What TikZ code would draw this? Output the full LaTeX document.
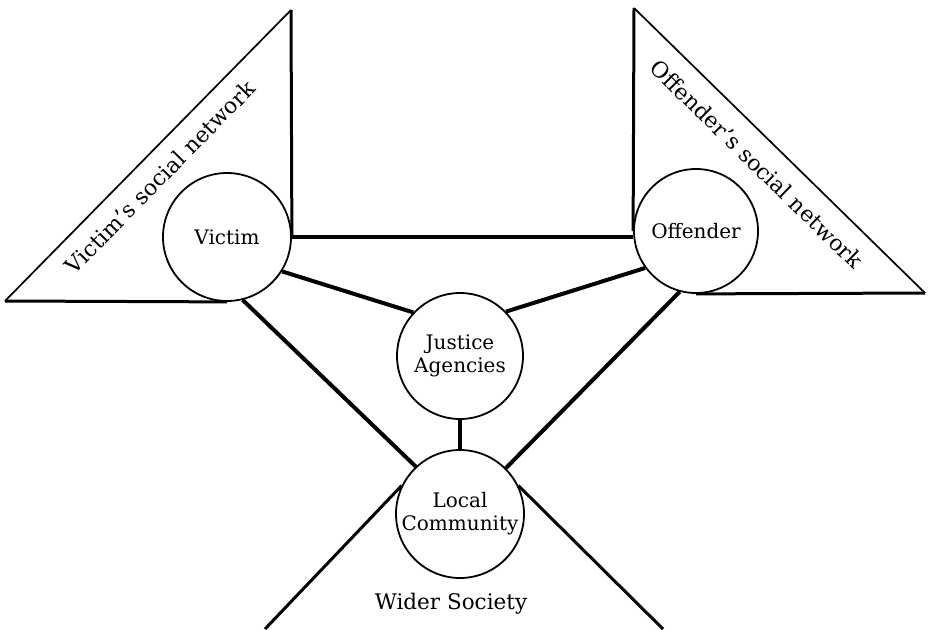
\documentclass[tikz,border=0pt]{standalone}
\usepackage{fontspec}
\setmainfont{DejaVu Serif}
\begin{document}
\begin{tikzpicture}[x=1pt,y=-1pt,
  party/.style={circle,draw,line width=1.8pt,fill=white,inner sep=0pt,align=center,
    font=\fontsize{20}{23}\selectfont},
  link/.style={line width=4pt},
  leg/.style={line width=3pt},
  hyp/.style={line width=1.7pt,line join=miter},
  tlabel/.style={font=\fontsize{22}{24}\selectfont}]
\useasboundingbox (0,0) rectangle (928,629);
% nodes
\node[party,minimum size=128pt] (victim) at (227,237) {Victim};
\node[party,minimum size=124pt] (offender) at (696,231) {Offender};
\node[party,minimum size=126pt] (justice) at (460,356) {Justice\\Agencies};
\node[party,minimum size=128pt] (lc) at (460,514) {Local\\Community};
% coordinates
\coordinate (vl) at (5,301);
\coordinate (vt) at (291,10);
\coordinate (ot) at (634,8);
\coordinate (orr) at (925,293);
\coordinate (bl) at (265,629);
\coordinate (br) at (663,629);
% triangles
\draw[leg] (victim.south) -- (vl);
\draw[hyp] (vl) -- (vt);
\draw[leg] (vt) -- (victim.east);
\draw[leg] (offender.west) -- (ot);
\draw[hyp] (ot) -- (orr);
\draw[leg] (orr) -- (offender.south);
% connectors
\draw[link] (victim.east) -- (victim.east -| offender.west);
\draw[link] (victim.-32) -- (justice.137);
\draw[link] (offender.-144) -- (justice.44);
\draw[link] (victim.-76) -- (lc.133);
\draw[link] (offender.-105) -- (lc.45);
\draw[link] (justice.south) -- (lc.north);
\draw[leg] (lc.154) -- (bl);
\draw[leg] (lc.26) -- (br);
% labels
\node[tlabel,rotate=45.5] (vsn) at (160,177) {Victim’s social network};
\node[tlabel,rotate=-44.4] (osn) at (757,164) {Offender’s social network};
\node[font=\fontsize{21.5}{24}\selectfont] (ws) at (451,604) {Wider Society};
\end{tikzpicture}
\end{document}
